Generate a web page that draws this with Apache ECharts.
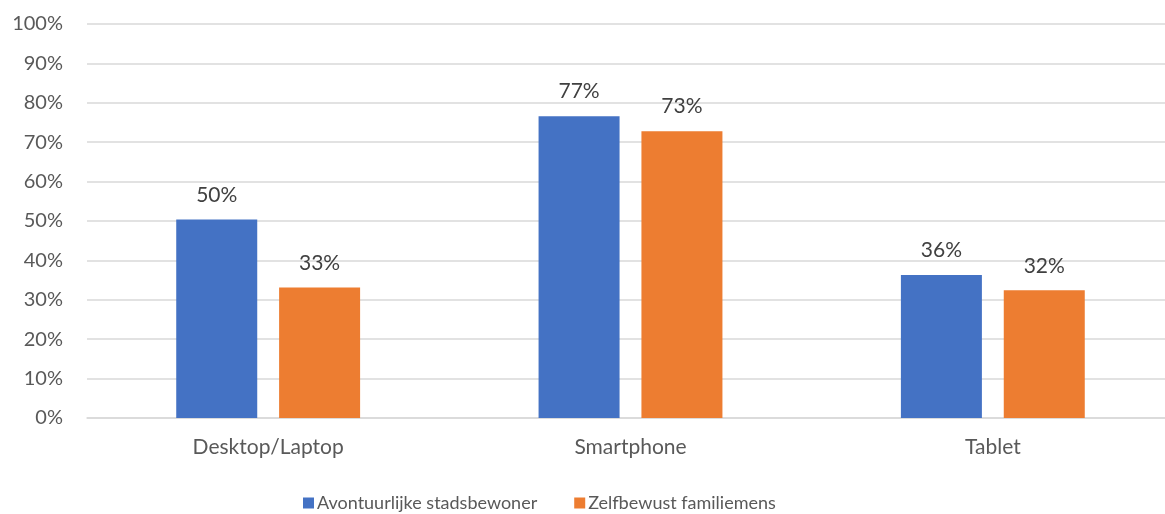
<!DOCTYPE html>
<html>
<head>
<meta charset="utf-8">
<script src="https://cdn.jsdelivr.net/npm/echarts@6/dist/echarts.min.js"></script>
<style>html,body{margin:0;padding:0;background:#fff;overflow:hidden;}#c{width:1176px;height:514px;}</style>
</head>
<body>
<div id="c"></div>
<script>
const categories = ['Desktop/Laptop', 'Smartphone', 'Tablet'];
const seriesNames = ['Avontuurlijke stadsbewoner', 'Zelfbewust familiemens'];
const avontuurlijke = [0.504, 0.766, 0.363];
const zelfbewust = [0.331, 0.728, 0.324];
const colors = ['#4472C4', '#ED7D31'];
const FONT = 'Lato';

const chart = echarts.init(document.getElementById('c'), null, {renderer: 'canvas'});
const pct = v => Math.round(v * 100) + '%';
const labelCfg = {
  show: true, position: 'top', distance: 14,
  formatter: p => pct(p.value),
  color: '#404040', fontSize: 21, fontFamily: FONT
};
chart.setOption({
  animation: false,
  grid: {left: 87, top: 24, width: 1087, height: 394, containLabel: false},
  legend: {
    data: seriesNames, left: 303, top: 494, padding: 0, itemWidth: 11, itemHeight: 11, itemGap: 37,
    icon: 'rect', textStyle: {color: '#595959', fontSize: 18, fontFamily: FONT, padding: [0,0,0,-2]}
  },
  xAxis: {
    type: 'category', data: categories,
    axisLine: {lineStyle: {color: '#d9d9d9', width: 1.5}},
    axisTick: {show: false},
    axisLabel: {color: '#595959', fontSize: 21, fontFamily: FONT, margin: 19}
  },
  yAxis: {
    type: 'value', min: 0, max: 1, interval: 0.1,
    axisLine: {show: false}, axisTick: {show: false},
    splitLine: {lineStyle: {color: '#d9d9d9', width: 1.5}},
    axisLabel: {color: '#595959', fontSize: 20, fontFamily: FONT, margin: 24, formatter: v => pct(v)}
  },
  series: [
    {name: seriesNames[0], type: 'bar', data: avontuurlijke, barWidth: 81, barGap: '27%',
     itemStyle: {color: colors[0]}, label: labelCfg},
    {name: seriesNames[1], type: 'bar', data: zelfbewust, barWidth: 81, barGap: '27%',
     itemStyle: {color: colors[1]}, label: labelCfg}
  ]
});
</script>
</body>
</html>
